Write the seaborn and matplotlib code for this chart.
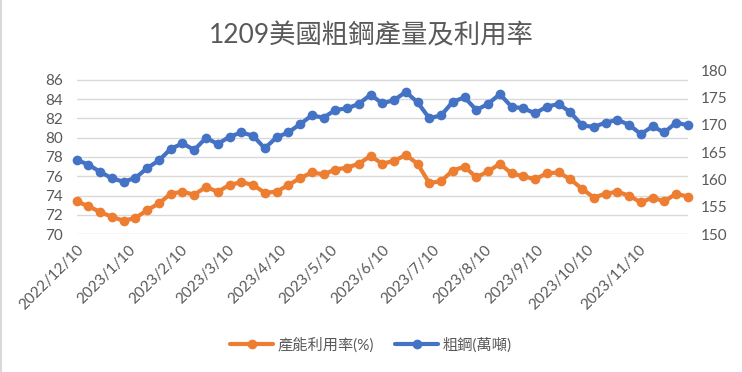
import pandas as pd
import matplotlib
matplotlib.use('Agg')
import matplotlib.pyplot as plt
import matplotlib.dates as mdates
from matplotlib.lines import Line2D
import seaborn as sns

# ─── Data (weekly) ──────────────────────────────────────────
start_date = '2022-12-10'
n_weeks = 53

utilization = [
    73.4, 72.9, 72.3, 71.8, 71.4, 71.7, 72.5, 73.2, 74.2, 74.4,
    74.1, 74.9, 74.4, 75.1, 75.4, 75.1, 74.3, 74.4, 75.1, 75.8,
    76.4, 76.2, 76.7, 76.9, 77.3, 78.1, 77.3, 77.6, 78.2, 77.3,
    75.3, 75.5, 76.6, 77.0, 75.9, 76.5, 77.3, 76.3, 76.0, 75.7,
    76.3, 76.4, 75.7, 74.7, 73.8, 74.2, 74.4, 74.0, 73.3, 73.8,
    73.4, 74.2, 73.9,
]

crude_steel = [
    163.6, 162.7, 161.4, 160.2, 159.6, 160.3, 162.1, 163.5, 165.6, 166.6,
    165.4, 167.6, 166.5, 167.8, 168.6, 168.0, 165.7, 167.7, 168.6, 170.1,
    171.7, 171.3, 172.7, 173.0, 173.8, 175.5, 173.9, 174.5, 176.0, 174.1,
    171.2, 171.7, 174.2, 175.0, 172.7, 173.8, 175.6, 173.3, 173.0, 172.1,
    173.3, 173.8, 172.3, 169.9, 169.6, 170.4, 170.9, 170.0, 168.3, 169.7,
    168.6, 170.4, 169.9,
]

tick_dates = ['2022-12-10', '2023-01-10', '2023-02-10', '2023-03-10',
              '2023-04-10', '2023-05-10', '2023-06-10', '2023-07-10',
              '2023-08-10', '2023-09-10', '2023-10-10', '2023-11-10']

title = '1209美國粗鋼產量及利用率'
label_util = '產能利用率(%)'
label_steel = '粗鋼(萬噸)'

df = pd.DataFrame({
    'date': pd.date_range(start_date, periods=n_weeks, freq='7D'),
    'util': utilization,
    'steel': crude_steel,
})

# ─── Style ───────────────────────────────────────────────────
sns.set_theme(style='white')
plt.rcParams['font.family'] = ['Lato', 'Noto Sans CJK TC', 'DejaVu Sans']

ORANGE = '#ED7D31'
BLUE = '#4472C4'
GRAY = '#595959'
GRID = '#D9D9D9'

fig = plt.figure(figsize=(7.42, 3.72), dpi=100)
ax = fig.add_axes([0.1034, 0.3702, 0.927 - 0.1034, 0.8118 - 0.3702])
ax2 = ax.twinx()

line_kw = dict(linewidth=3, marker='o', markersize=7, markeredgewidth=0, clip_on=False)
sns.lineplot(data=df, x='date', y='util', ax=ax, color=ORANGE, **line_kw)
sns.lineplot(data=df, x='date', y='steel', ax=ax2, color=BLUE, **line_kw)

# left axis
ax.set_ylim(70, 87)
ax.set_yticks(range(70, 87, 2))
ax.yaxis.grid(True, color=GRID, linewidth=1)
ax.xaxis.grid(False)
ax.set_axisbelow(True)

# right axis
ax2.set_ylim(150, 180)
ax2.set_yticks(range(150, 181, 5))
ax2.grid(False)

ax.set_xlim(df['date'].iloc[0], df['date'].iloc[-1])
ax.set_xticks(pd.to_datetime(tick_dates))
ax.xaxis.set_major_formatter(mdates.DateFormatter('%Y/%-m/%-d'))

for a in (ax, ax2):
    a.set_xlabel('')
    a.set_ylabel('')
    for s in a.spines.values():
        s.set_visible(False)
    a.tick_params(axis='both', length=0, labelsize=11, colors=GRAY)

ax.tick_params(axis='y', pad=10)
ax2.tick_params(axis='y', pad=9)
ax.tick_params(axis='x', pad=6)
for lbl in ax.get_xticklabels():
    lbl.set_rotation(45)
    lbl.set_ha('right')
    lbl.set_rotation_mode('anchor')

fig.text(0.5, 0.905, title, ha='center', va='center', fontsize=19, color=GRAY)

handles = [
    Line2D([], [], color=ORANGE, linewidth=3, marker='o', markersize=7, markeredgewidth=0),
    Line2D([], [], color=BLUE, linewidth=3, marker='o', markersize=7, markeredgewidth=0),
]
fig.legend(handles, [label_util, label_steel], loc='center', bbox_to_anchor=(0.5, 0.073),
           ncol=2, frameon=False, fontsize=11, labelcolor=GRAY,
           handlelength=2.8, handletextpad=0.3, columnspacing=1.4)

# thin chart border on the left edge
fig.add_artist(Line2D([0.001, 0.001], [0, 1], transform=fig.transFigure, color=GRID, linewidth=1.5))

fig.savefig('out.png', dpi=100)
